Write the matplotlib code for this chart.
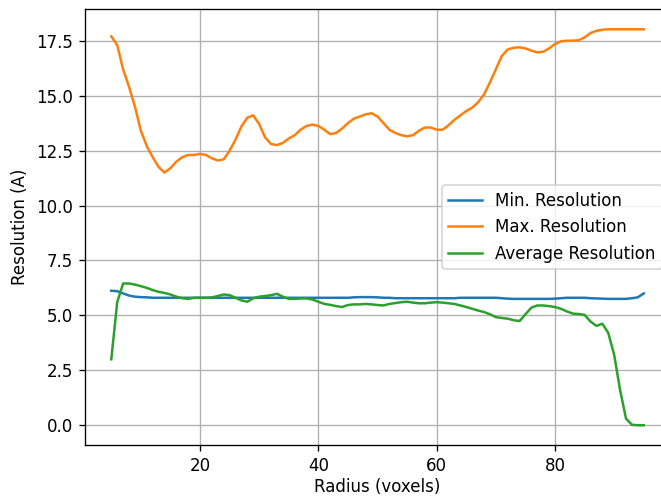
import matplotlib
matplotlib.use('Agg')
import matplotlib.pyplot as plt

radius = list(range(5, 96))

max_res = [17.7, 17.3, 16.2, 15.4, 14.5, 13.4, 12.7, 12.2, 11.75, 11.5,
           11.7, 12.0, 12.2, 12.3, 12.3, 12.35, 12.3, 12.15, 12.05, 12.1,
           12.5, 13.0, 13.6, 14.0, 14.1, 13.7, 13.1, 12.8, 12.75, 12.85,
           13.05, 13.2, 13.45, 13.62, 13.68, 13.62, 13.45, 13.25, 13.3, 13.5,
           13.75, 13.95, 14.05, 14.15, 14.2, 14.05, 13.75, 13.45, 13.3, 13.2,
           13.15, 13.2, 13.4, 13.55, 13.55, 13.45, 13.45, 13.65, 13.9, 14.1,
           14.3, 14.45, 14.7, 15.05, 15.6, 16.2, 16.8, 17.1, 17.18, 17.2,
           17.15, 17.05, 16.97, 17.0, 17.15, 17.35, 17.47, 17.5, 17.5, 17.52,
           17.65, 17.85, 17.95, 18.0, 18.02, 18.02, 18.02, 18.02, 18.02, 18.02,
           18.02]

min_res = [6.12, 6.1, 6.0, 5.9, 5.85, 5.83, 5.82, 5.8, 5.8, 5.8,
           5.8, 5.8, 5.8, 5.8, 5.8, 5.8, 5.8, 5.8, 5.8, 5.8,
           5.8, 5.8, 5.8, 5.8, 5.8, 5.8, 5.8, 5.8, 5.8, 5.8,
           5.8, 5.8, 5.8, 5.8, 5.8, 5.8, 5.8, 5.8, 5.8, 5.8,
           5.8, 5.82, 5.83, 5.83, 5.83, 5.82, 5.8, 5.8, 5.78, 5.78,
           5.78, 5.78, 5.78, 5.78, 5.78, 5.78, 5.78, 5.78, 5.78, 5.8,
           5.8, 5.8, 5.8, 5.8, 5.8, 5.8, 5.78, 5.76, 5.75, 5.75,
           5.75, 5.75, 5.75, 5.75, 5.75, 5.76, 5.78, 5.8, 5.8, 5.8,
           5.8, 5.78, 5.77, 5.76, 5.75, 5.75, 5.75, 5.75, 5.78, 5.82,
           6.0]

avg_res = [3.0, 5.6, 6.45, 6.45, 6.4, 6.33, 6.25, 6.15, 6.07, 6.02,
           5.95, 5.85, 5.78, 5.75, 5.8, 5.8, 5.8, 5.82, 5.88, 5.95,
           5.92, 5.8, 5.68, 5.62, 5.78, 5.85, 5.88, 5.92, 5.98, 5.85,
           5.75, 5.75, 5.77, 5.77, 5.72, 5.62, 5.52, 5.48, 5.42, 5.38,
           5.47, 5.5, 5.5, 5.52, 5.5, 5.47, 5.45, 5.52, 5.56, 5.6,
           5.62, 5.58, 5.55, 5.55, 5.58, 5.6, 5.58, 5.55, 5.52, 5.45,
           5.38, 5.3, 5.22, 5.15, 5.05, 4.92, 4.88, 4.85, 4.78, 4.74,
           5.05, 5.35, 5.45, 5.45, 5.42, 5.38, 5.3, 5.18, 5.08, 5.06,
           5.02, 4.72, 4.52, 4.62, 4.2, 3.2, 1.6, 0.3, 0.02, 0.0,
           0.0]

# reference looks rendered at ~1.2x scale and cropped on the right
fig = plt.figure(figsize=(661 / 120, 497 / 120), dpi=120)
ax = fig.add_subplot(111)
fig.subplots_adjust(left=0.1281, right=1.0142, top=0.9809, bottom=0.1046)

ax.plot(radius, min_res, label='Min. Resolution')
ax.plot(radius, max_res, label='Max. Resolution')
ax.plot(radius, avg_res, label='Average Resolution')

ax.set_xlabel('Radius (voxels)', labelpad=2.0)
ax.set_ylabel('Resolution (A)')
ax.grid(True)
ax.legend(loc='center right')

fig.savefig('out.png', dpi=120)
